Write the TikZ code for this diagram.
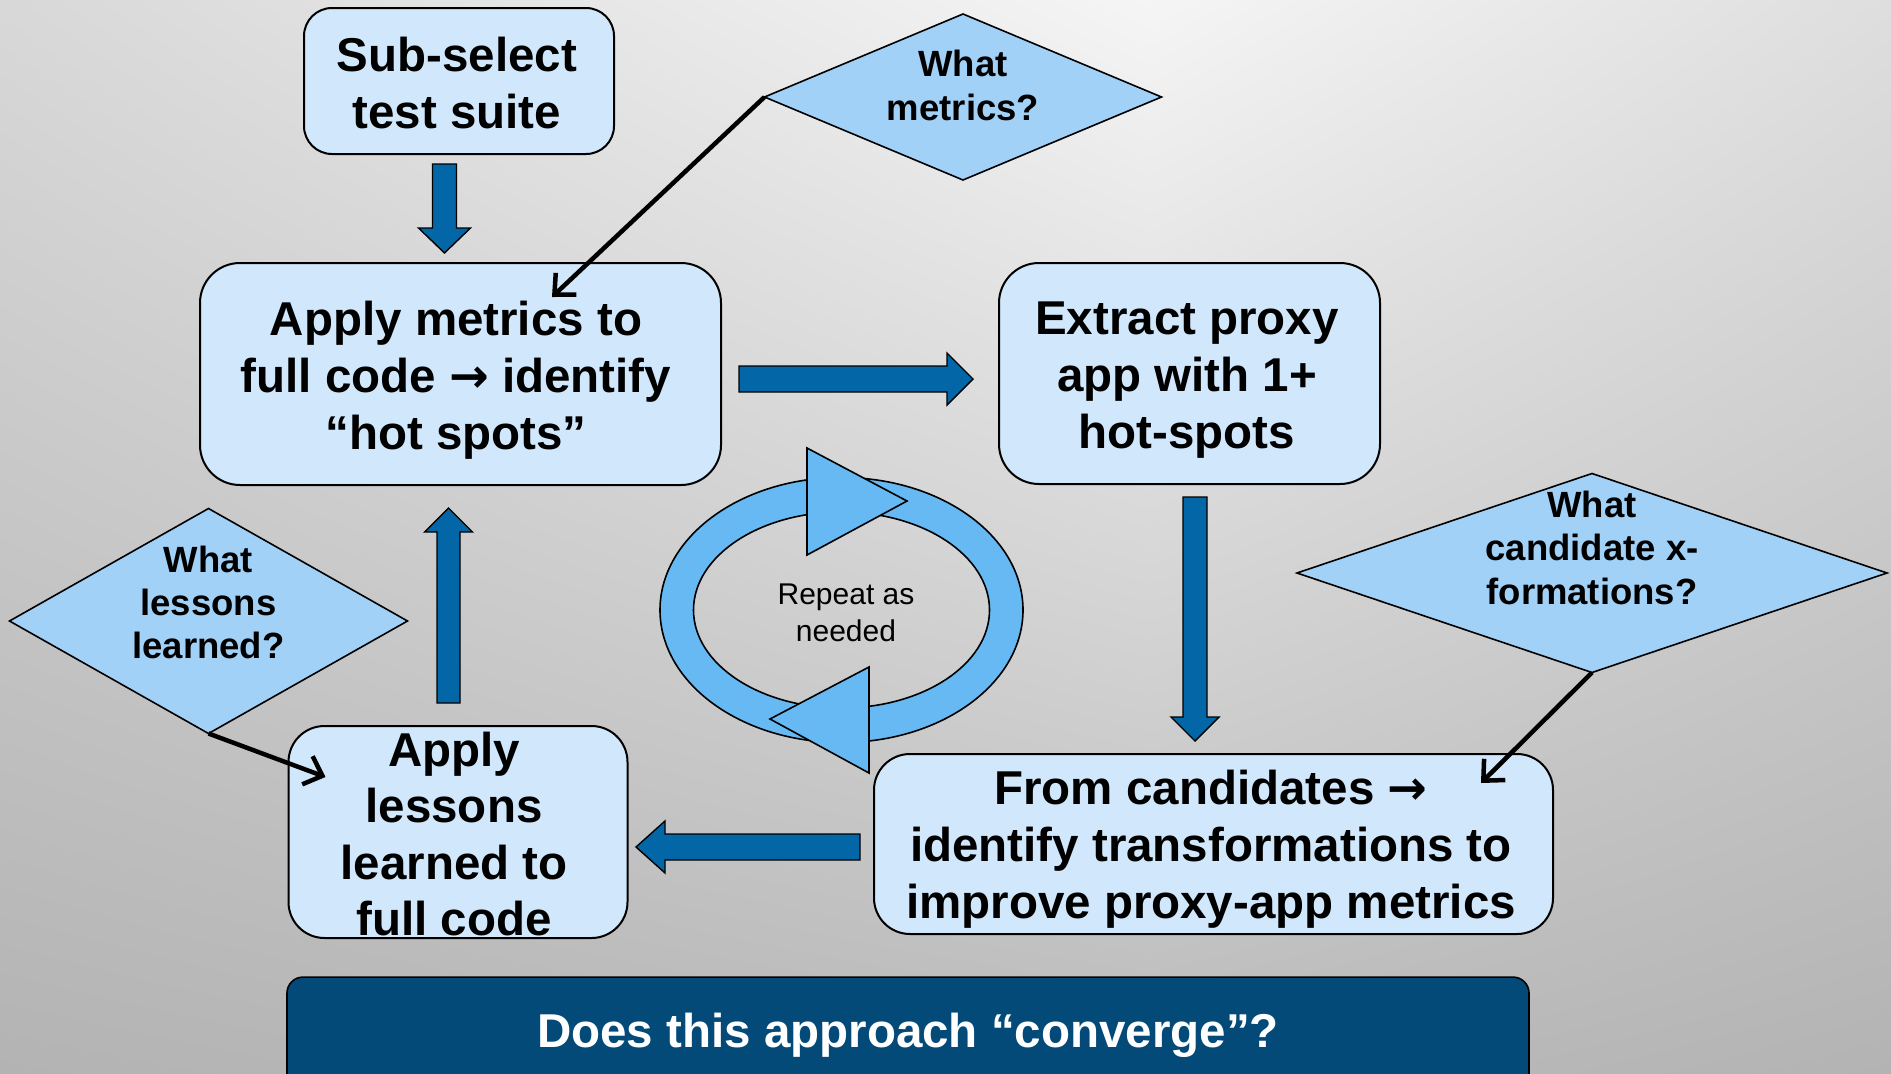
\documentclass[tikz,border=0pt]{standalone}
\usepackage{fontspec}
\setmainfont{Liberation Sans}
\newfontfamily\arrowfont{DejaVu Sans}
\usetikzlibrary{shapes.geometric,arrows.meta,calc,shadings}

\definecolor{boxfill}{HTML}{D1E8FC}
\definecolor{qfill}{HTML}{A2D1F7}
\definecolor{ringfill}{HTML}{66B9F2}
\definecolor{flowblue}{HTML}{0366A6}
\definecolor{barblue}{HTML}{044A78}
% background tones: left edge, light crest, right edge (top / bottom)
\definecolor{bgTL}{HTML}{D8D8D8}
\definecolor{bgTC}{HTML}{F5F5F5}
\definecolor{bgTR}{HTML}{DEDEDE}
\definecolor{bgBL}{HTML}{B3B3B3}
\definecolor{bgBC}{HTML}{BBBBBB}
\definecolor{bgBR}{HTML}{B3B3B3}

\newcommand{\goesto}{{\arrowfont\bfseries →}}

\tikzset{
  % thick outlined block arrow: length / head length / half shaft / half head
  pics/blockarrow/.style args={#1/#2/#3/#4}{code={
    \path[flow] (0,{-#3}) -- ({#1-#2},{-#3}) -- ({#1-#2},{-#4}) -- (#1,0)
      -- ({#1-#2},#4) -- ({#1-#2},#3) -- (0,#3) -- cycle;
  }}
}

\begin{document}
\begin{tikzpicture}[x=1pt, y=-1pt,
  every node/.style={inner sep=0pt, outer sep=0pt},
  stepbox/.style={rectangle, draw=black, line width=2pt, fill=boxfill},
  boxtext/.style={align=center, font=\fontsize{47.5}{57}\selectfont\bfseries},
  question/.style={diamond, draw=black, line width=1.6pt, fill=qfill},
  qtext/.style={align=center, font=\fontsize{36.5}{43.5}\selectfont\bfseries},
  hint/.style={draw=black, line width=4.5pt, -{Straight Barb[length=16pt, width=30pt]}},
  flow/.style={draw=black, line width=1.4pt, fill=flowblue, line join=miter},
  ringpart/.style={draw=black, line width=1.6pt, fill=ringfill, line join=miter},
  bar/.style={rectangle, rounded corners=16pt, draw=black, line width=1.6pt,
    fill=barblue, text=white, font=\fontsize{47.5}{57}\selectfont\bfseries}
]

\useasboundingbox (0,0) rectangle (1891,1074);
\clip (0,0) rectangle (1891,1074);

% background: grey with a light crest near the top
\shade[upper left=bgTL, upper right=bgTC, lower left=bgBL, lower right=bgBC]
  (0,0) rectangle (1150,1074);
\shade[upper left=bgTC, upper right=bgTR, lower left=bgBC, lower right=bgBR]
  (1150,0) rectangle (1891,1074);

% process boxes
\node[stepbox, rounded corners=28pt, minimum width=310, minimum height=146] (sub) at (459,81) {};
\node[boxtext] (subtext) at ($(sub)+(-2,8)$) {\strut Sub-select\\\strut test suite};

\node[stepbox, rounded corners=40pt, minimum width=521, minimum height=222] (metrics) at (460.5,374) {};
\node[boxtext] (metricstext) at ($(metrics)+(-4.5,7.5)$)
  {\strut Apply metrics to\\\strut full code \goesto{} identify\\\strut “hot spots”};

\node[stepbox, rounded corners=40pt, minimum width=381, minimum height=221] (extract) at (1189.5,373.5) {};
\node[boxtext] (extracttext) at ($(extract)+(-2.5,7)$)
  {\strut Extract proxy\\\strut app with 1+\\\strut hot-spots};

\node[stepbox, rounded corners=36pt, minimum width=679, minimum height=180] (cand) at (1213.5,844) {};
\node[boxtext] (candtext) at ($(cand)+(-2.5,6.5)$)
  {\strut From candidates \goesto\\\strut identify transformations to\\\strut improve proxy-app metrics};

\node[stepbox, rounded corners=36pt, minimum width=339, minimum height=212] (lessons) at (458,832) {};
\node[boxtext, font=\fontsize{47.5}{56.5}\selectfont\bfseries] (lessonstext) at ($(lessons)+(-4,7.5)$)
  {\strut Apply\\\strut lessons\\\strut learned to\\\strut full code};

% question diamonds
\node[question, minimum width=397, minimum height=166] (qm) at (963,97) {};
\node[qtext] (qmtext) at ($(qm)+(0,-7)$) {\strut What\\\strut metrics?};

\node[question, minimum width=590, minimum height=199] (qc) at (1592,573) {};
\node[qtext] (qctext) at ($(qc)+(0,-21)$) {\strut What\\\strut candidate x-\\\strut formations?};

\node[question, minimum width=398, minimum height=225] (ql) at (208.5,621) {};
\node[qtext, font=\fontsize{36.5}{43}\selectfont\bfseries] (qltext) at ($(ql)+(0,-14.5)$)
  {\strut What\\\strut lessons\\\strut learned?};

% thin pointers from the questions
\draw[hint] (qm.west) -- ($(metrics.north)+(91.5,34)$);
\draw[hint] (qc.south) -- ($(cand.north)+(267.5,29)$);
\draw[hint] (ql.south) -- ($(lessons.north west)+(37,51)$);

% block arrows of the main cycle
\pic[rotate=-90] at ($(sub.south)+(-14.5,10)$) {blockarrow=89/25/12/26};
\pic at ($(metrics.east)+(18,5)$) {blockarrow=234/26/13/26};
\pic[rotate=-90] at ($(extract.south)+(5.5,13)$) {blockarrow=244/24/12/24};
\pic[rotate=180] at ($(cand.west)+(-14,3)$) {blockarrow=224/29/13/26};
\pic[rotate=90] at ($(lessons.north)+(-9.5,-23)$) {blockarrow=195/24/11.5/24};

% repeat loop
\coordinate (loop) at (841.5,610);
\path[ringpart, even odd rule]
  (loop) ellipse [x radius=181.5, y radius=132.5]
  (loop) ellipse [x radius=148, y radius=98];
\begin{scope}[shift={(loop)}]
  \path[ringpart] (-34.5,-162) -- (-34.5,-55) -- (65.5,-109) -- cycle;
  \path[ringpart] (27.5,57) -- (27.5,163) -- (-71.5,109) -- cycle;
\end{scope}
\node[align=center, font=\fontsize{30}{37}\selectfont] (repeat) at ($(loop)+(4.5,6)$)
  {\strut Repeat as\\\strut needed};

% closing question bar
\node[bar, minimum width=1242, minimum height=117] (conv) at (908,1035.6)
  {\strut Does this approach “converge”?};

\end{tikzpicture}
\end{document}
